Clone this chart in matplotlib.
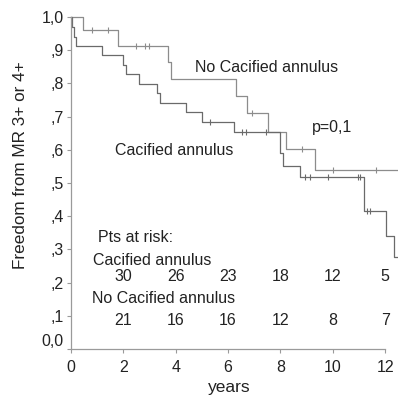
import numpy as np
import matplotlib
matplotlib.use("Agg")
import matplotlib.pyplot as plt
from matplotlib.transforms import ScaledTranslation

plt.rcParams['font.family'] = ['Liberation Sans', 'DejaVu Sans']

# Kaplan-Meier steps
nocalc_t = [0, 0.47, 1.81, 3.71, 3.82, 6.32, 6.73, 7.52, 8.21, 9.33, 12.47]
nocalc_s = [1.0, 0.961, 0.914, 0.864, 0.812, 0.763, 0.711, 0.655, 0.601, 0.539, 0.539]
nocalc_cens = [0.81, 1.42, 2.5, 2.82, 2.99, 6.9, 8.83, 10.0, 11.64]

calc_t = [0, 0.03, 0.11, 0.19, 1.2, 2.0, 2.09, 2.6, 3.29, 3.4, 4.4, 5.0, 6.21,
          8.0, 8.1, 8.74, 11.2, 12.02, 12.33, 12.45]
calc_s = [1.0, 0.971, 0.941, 0.914, 0.886, 0.855, 0.827, 0.798, 0.770, 0.742,
          0.714, 0.684, 0.655, 0.589, 0.551, 0.517, 0.414, 0.341, 0.278, 0.278]
calc_cens = [5.31, 6.52, 6.69, 7.44, 8.93, 9.12, 9.82, 10.94, 11.03, 11.31, 11.41]

risk_years = [2, 4, 6, 8, 10, 12]
risk_calc = [30, 26, 23, 18, 12, 5]
risk_nocalc = [21, 16, 16, 12, 8, 7]

yticks = [0, .1, .2, .3, .4, .5, .6, .7, .8, .9, 1.0]
ytick_labels = ['0,0', ',1', ',2', ',3', ',4', ',5', ',6', ',7', ',8', ',9', '1,0']


def step_at(times, surv, t):
    i = np.searchsorted(times, t, side='right') - 1
    return np.asarray(surv)[i]


fig = plt.figure(figsize=(3.98, 3.96), dpi=100)
ax = fig.add_axes([0.178, 0.119, 0.823, 0.838])

ax.step(nocalc_t, nocalc_s, where='post', color='#8c8c8c', lw=0.9, clip_on=False)
ax.step(calc_t, calc_s, where='post', color='#6a6a6a', lw=0.9, clip_on=False)
ax.plot(nocalc_cens, step_at(nocalc_t, nocalc_s, nocalc_cens), ls='none',
        marker='|', ms=5, mew=0.8, color='#8c8c8c', clip_on=False)
ax.plot(calc_cens, step_at(calc_t, calc_s, calc_cens), ls='none',
        marker='|', ms=5, mew=0.8, color='#6a6a6a', clip_on=False)

txt = dict(fontsize=11.5, color='#222222', va='center')
ax.text(4.73, 0.849, 'No Cacified annulus', **txt)
ax.text(1.68, 0.599, 'Cacified annulus', **txt)
ax.text(9.2, 0.666, 'p=0,1', **txt)

# patients at risk
ax.text(1.03, 0.337, 'Pts at risk:', **txt)
ax.text(0.84, 0.265, 'Cacified annulus', **txt)
for x, n in zip(risk_years, risk_calc):
    ax.text(x, 0.217, str(n), ha='center', **txt)
ax.text(0.80, 0.151, 'No Cacified annulus', **txt)
for x, n in zip(risk_years, risk_nocalc):
    ax.text(x, 0.087, str(n), ha='center', **txt)

ax.set_xlim(0, 12.5)
ax.set_ylim(0, 1.0)
ax.set_xticks([0, 2, 4, 6, 8, 10, 12])
ax.set_yticks(yticks)
ax.set_yticklabels(ytick_labels)
ax.spines['top'].set_visible(False)
ax.spines['right'].set_visible(False)
ax.spines['bottom'].set_bounds(0, 12)
for s in ['left', 'bottom']:
    ax.spines[s].set_color('#9a9a9a')
    ax.spines[s].set_linewidth(0.9)
ax.tick_params(direction='out', length=3, width=0.8, color='#9a9a9a',
               labelsize=11.5, labelcolor='#222222', pad=2)
ax.tick_params(axis='x', pad=5)

# SPSS draws the 0,0 label slightly higher
lbl = ax.get_yticklabels()[0]
lbl.set_transform(lbl.get_transform() + ScaledTranslation(0, 9 / 100, fig.dpi_scale_trans))

ax.set_xlabel('years', fontsize=12.5, color='#222222')
ax.xaxis.set_label_coords(0.483, -0.095)
ax.set_ylabel('Freedom from MR 3+ or 4+', fontsize=12.3, color='#222222')
ax.yaxis.set_label_coords(-0.13, 0.554)

fig.savefig('out.png', dpi=100)
